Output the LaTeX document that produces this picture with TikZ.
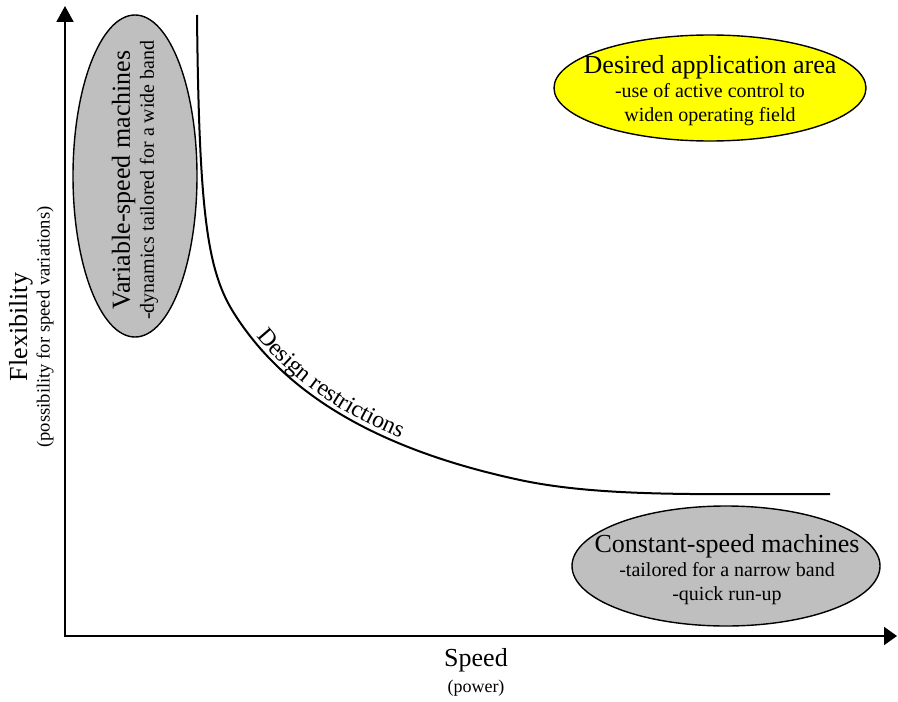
\documentclass[tikz,border=0pt]{standalone}
\usepackage{fontspec}
\setmainfont{Liberation Serif}
\usepackage{tikz}
\usetikzlibrary{arrows.meta,decorations,decorations.text}
\usepackage{color}
\colorlet{machgrey}{black!25}
\definecolor{areayellow}{RGB}{255,255,0}

\begin{document}
\begin{tikzpicture}[x=0.5pt,y=-0.5pt,
    axis/.style={line width=1pt},
    bound/.style={line width=1pt},
    blob/.style={draw=black, line width=0.7pt},
    headtext/.style={font=\fontsize{13}{15}\selectfont},
    subtext/.style={font=\fontsize{10}{12}\selectfont},
    lbl/.style={align=center, inner sep=0pt}]
        \useasboundingbox (0,0) rectangle (898,701);
        % axes
        \coordinate (origin) at (65,636);
        \coordinate (ytip) at (65,6);
        \coordinate (xtip) at (897,636);
        \draw[axis, {Triangle[length=8pt,width=8.5pt]}-{Triangle[length=6.5pt,width=9pt]}] (ytip) -- (origin) -- (xtip);
        \node[headtext, inner sep=0pt] (speed) at (476,660) {Speed};
        \node[font=\fontsize{9}{11}\selectfont, inner sep=0pt] (power) at (476,688) {(power)};
        \node[headtext, rotate=90, inner sep=0pt] (flex) at (21,327) {Flexibility};
        \node[font=\fontsize{9.3}{11}\selectfont, rotate=90, inner sep=0pt] (poss) at (45,327) {(possibility for speed variations)};
        % the three areas
        \filldraw[blob, fill=machgrey] (135,176) ellipse [x radius=31pt, y radius=80.5pt];
        \filldraw[blob, fill=areayellow] (710,88) ellipse [x radius=78pt, y radius=26.5pt];
        \filldraw[blob, fill=machgrey] (726,566) ellipse [x radius=77pt, y radius=30pt];
        \node[lbl, rotate=90, subtext] (varspeed) at (135,180)
            {{\fontsize{13}{15}\selectfont Variable-speed machines}\\-dynamics tailored for a wide band};
        \node[lbl, subtext] (desired) at (710,91)
            {{\fontsize{13}{15}\selectfont Desired application area}\\-use of active control to\\widen operating field};
        \node[lbl, subtext] (constspeed) at (727,570)
            {{\fontsize{13}{15}\selectfont Constant-speed machines}\\-tailored for a narrow band\\-quick run-up};
        % design restrictions curve
        \coordinate (bendtop) at (197,15);
        \coordinate (bendA) at (232,310);
        \coordinate (bendB) at (520,480);
        \coordinate (bendend) at (830,494);
        \draw[bound] (bendtop) .. controls (199,210) and (207,268) .. (bendA)
            .. controls (284,395) and (380,450) .. (bendB)
            .. controls (600,497) and (700,494) .. (bendend);
        \path[decorate, decoration={text along path, raise=2.5pt, text align={left indent=18pt},
            text={|\fontsize{12}{14}\selectfont|Design restrictions}}]
            (bendA) .. controls (284,395) and (380,450) .. (bendB);
    \end{tikzpicture}
\end{document}
